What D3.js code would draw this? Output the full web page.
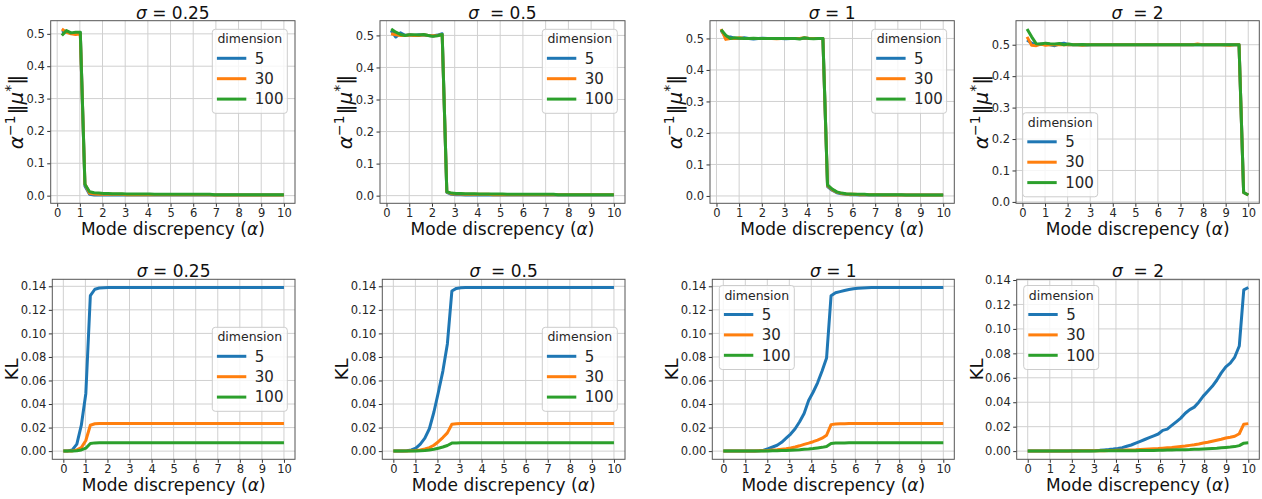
<!DOCTYPE html>
<html><head><meta charset="utf-8">
<script src="https://cdn.jsdelivr.net/npm/d3@7"></script>
<style>body{margin:0;background:#fff}svg{display:block}text{font-family:"DejaVu Sans",sans-serif}</style>
</head><body><svg id="c" width="1262" height="499"></svg>
<script>
// ---------------- data ----------------
const alphaKL = [0,0.204,0.408,0.612,0.816,1.020,1.224,1.429,1.633,1.837,
 2.041,2.245,2.449,2.653,2.857,3.061,3.265,3.469,3.673,3.878,
 4.082,4.286,4.490,4.694,4.898,5.102,5.306,5.510,5.714,5.918,
 6.122,6.327,6.531,6.735,6.939,7.143,7.347,7.551,7.755,7.959,
 8.163,8.367,8.571,8.776,8.980,9.184,9.388,9.592,9.796,10];
const alphaMu = [0.204,0.408,0.612,0.816,1.020,1.224,1.429,1.633,1.837,
 2.041,2.245,2.449,2.653,2.857,3.061,3.265,3.469,3.673,3.878,
 4.082,4.286,4.490,4.694,4.898,5.102,5.306,5.510,5.714,5.918,
 6.122,6.327,6.531,6.735,6.939,7.143,7.347,7.551,7.755,7.959,
 8.163,8.367,8.571,8.776,8.980,9.184,9.388,9.592,9.796,10];
const dims = ["5","30","100"];
const titles = ["0.25","0.5","1","2"];
const titleWide = [false,true,false,true];
const xTicks = [0,1,2,3,4,5,6,7,8,9,10];
const muTicks = [0,0.1,0.2,0.3,0.4,0.5];
const klTicks = [0,0.02,0.04,0.06,0.08,0.10,0.12,0.14];

const mu025_d5 = [0.505,0.508,0.502,0.500,0.503,0.030,0.004,0.002,0.002,0.002,
 0.002,0.002,0.002,0.002,0.002,0.002,0.002,0.002,0.002,0.002,
 0.002,0.002,0.002,0.002,0.002,0.002,0.002,0.002,0.002,0.002,
 0.002,0.002,0.002,0.002,0.002,0.002,0.002,0.002,0.002,0.002,
 0.002,0.002,0.002,0.002,0.002,0.002,0.002,0.002,0.002];
const mu025_d30 = [0.515,0.505,0.500,0.498,0.500,0.036,0.007,0.005,0.004,0.004,
 0.004,0.004,0.004,0.004,0.003,0.003,0.003,0.003,0.003,0.003,
 0.003,0.003,0.003,0.003,0.003,0.003,0.003,0.003,0.003,0.003,
 0.003,0.003,0.003,0.002,0.002,0.002,0.002,0.002,0.002,0.002,
 0.002,0.002,0.002,0.002,0.002,0.002,0.002,0.002,0.002];
const mu025_d100 = [0.495,0.510,0.503,0.505,0.505,0.035,0.012,0.009,0.008,0.007,
 0.007,0.006,0.006,0.006,0.005,0.005,0.005,0.005,0.005,0.005,
 0.004,0.004,0.004,0.004,0.004,0.004,0.004,0.004,0.004,0.004,
 0.004,0.004,0.004,0.003,0.003,0.003,0.003,0.003,0.003,0.003,
 0.003,0.003,0.003,0.003,0.003,0.003,0.003,0.003,0.003];

const mu05_d5 = [0.515,0.495,0.508,0.500,0.502,0.500,0.502,0.501,0.500,0.498,
 0.501,0.505,0.010,0.004,0.003,0.003,0.002,0.002,0.002,0.002,
 0.002,0.002,0.002,0.002,0.002,0.002,0.002,0.002,0.002,0.002,
 0.002,0.002,0.002,0.002,0.002,0.002,0.002,0.002,0.002,0.002,
 0.002,0.002,0.002,0.002,0.002,0.002,0.002,0.002,0.002];
const mu05_d30 = [0.505,0.502,0.500,0.500,0.501,0.500,0.500,0.502,0.500,0.499,
 0.500,0.502,0.012,0.006,0.005,0.005,0.004,0.004,0.004,0.004,
 0.004,0.004,0.003,0.003,0.003,0.003,0.003,0.003,0.003,0.003,
 0.003,0.003,0.003,0.003,0.003,0.003,0.003,0.003,0.003,0.003,
 0.003,0.003,0.003,0.003,0.003,0.003,0.003,0.003,0.003];
const mu05_d100 = [0.520,0.510,0.503,0.500,0.502,0.502,0.501,0.503,0.500,0.497,
 0.499,0.503,0.012,0.008,0.007,0.007,0.006,0.006,0.006,0.005,
 0.005,0.005,0.005,0.005,0.005,0.004,0.004,0.004,0.004,0.004,
 0.004,0.004,0.004,0.004,0.004,0.004,0.003,0.003,0.003,0.003,
 0.003,0.003,0.003,0.003,0.003,0.003,0.003,0.003,0.003];

const mu1_d5 = [0.525,0.505,0.505,0.500,0.500,0.502,0.500,0.498,0.500,0.501,
 0.500,0.500,0.500,0.500,0.499,0.500,0.500,0.500,0.501,0.500,
 0.500,0.500,0.500,0.030,0.018,0.010,0.007,0.005,0.004,0.004,
 0.003,0.003,0.003,0.003,0.003,0.003,0.003,0.003,0.003,0.003,
 0.003,0.003,0.003,0.003,0.003,0.003,0.003,0.003,0.003];
const mu1_d30 = [0.530,0.497,0.500,0.500,0.502,0.500,0.500,0.500,0.500,0.500,
 0.500,0.500,0.499,0.500,0.500,0.500,0.500,0.500,0.502,0.500,
 0.500,0.500,0.500,0.033,0.020,0.012,0.008,0.006,0.005,0.005,
 0.004,0.004,0.004,0.004,0.004,0.003,0.003,0.003,0.003,0.003,
 0.003,0.003,0.003,0.003,0.003,0.003,0.003,0.003,0.003];
const mu1_d100 = [0.528,0.510,0.500,0.502,0.501,0.500,0.500,0.501,0.500,0.500,
 0.500,0.500,0.500,0.500,0.500,0.500,0.500,0.498,0.502,0.500,
 0.499,0.500,0.500,0.035,0.022,0.013,0.009,0.007,0.006,0.005,
 0.005,0.005,0.004,0.004,0.004,0.004,0.004,0.004,0.004,0.004,
 0.003,0.003,0.003,0.003,0.003,0.003,0.003,0.003,0.003];

const mu2_d5 = [0.515,0.505,0.500,0.502,0.503,0.500,0.497,0.502,0.505,0.500,
 0.500,0.501,0.500,0.499,0.500,0.500,0.500,0.500,0.500,0.500,
 0.500,0.500,0.500,0.500,0.500,0.500,0.501,0.500,0.500,0.500,
 0.500,0.500,0.500,0.500,0.500,0.500,0.500,0.501,0.500,0.500,
 0.500,0.500,0.500,0.500,0.500,0.500,0.500,0.030,0.022];
const mu2_d30 = [0.525,0.498,0.497,0.502,0.498,0.500,0.500,0.500,0.500,0.500,
 0.500,0.500,0.498,0.500,0.500,0.500,0.500,0.500,0.500,0.500,
 0.500,0.500,0.500,0.500,0.500,0.500,0.500,0.500,0.500,0.500,
 0.500,0.500,0.500,0.500,0.500,0.500,0.500,0.502,0.500,0.500,
 0.500,0.500,0.500,0.499,0.498,0.500,0.500,0.030,0.022];
const mu2_d100 = [0.550,0.525,0.503,0.502,0.505,0.503,0.502,0.504,0.500,0.502,
 0.500,0.500,0.501,0.500,0.500,0.500,0.500,0.500,0.500,0.500,
 0.500,0.500,0.500,0.500,0.500,0.500,0.500,0.500,0.500,0.500,
 0.500,0.500,0.500,0.500,0.500,0.500,0.500,0.500,0.500,0.500,
 0.500,0.500,0.500,0.500,0.500,0.500,0.500,0.030,0.022];

const kl025_d5 = [0,0.0002,0.001,0.006,0.022,0.049,0.132,0.1375,0.1385,0.1388,
 0.139,0.139,0.139,0.139,0.139,0.139,0.139,0.139,0.139,0.139,
 0.139,0.139,0.139,0.139,0.139,0.139,0.139,0.139,0.139,0.139,
 0.139,0.139,0.139,0.139,0.139,0.139,0.139,0.139,0.139,0.139,
 0.139,0.139,0.139,0.139,0.139,0.139,0.139,0.139,0.139,0.139];
const kl025_d30 = [0,0,0.0002,0.001,0.003,0.009,0.022,0.0232,0.0234,0.0235,
 0.0235,0.0235,0.0235,0.0235,0.0235,0.0235,0.0235,0.0235,0.0235,0.0235,
 0.0235,0.0235,0.0235,0.0235,0.0235,0.0235,0.0235,0.0235,0.0235,0.0235,
 0.0235,0.0235,0.0235,0.0235,0.0235,0.0235,0.0235,0.0235,0.0235,0.0235,
 0.0235,0.0235,0.0235,0.0235,0.0235,0.0235,0.0235,0.0235,0.0235,0.0235];
const kl025_d100 = [0,0,0.0001,0.0004,0.001,0.0025,0.0065,0.0070,0.0071,0.0072,
 0.0072,0.0072,0.0072,0.0072,0.0072,0.0072,0.0072,0.0072,0.0072,0.0072,
 0.0072,0.0072,0.0072,0.0072,0.0072,0.0072,0.0072,0.0072,0.0072,0.0072,
 0.0072,0.0072,0.0072,0.0072,0.0072,0.0072,0.0072,0.0072,0.0072,0.0072,
 0.0072,0.0072,0.0072,0.0072,0.0072,0.0072,0.0072,0.0072,0.0072,0.0072];

const kl05_d5 = [0,0,0.0001,0.0004,0.001,0.0025,0.006,0.011,0.019,0.033,
 0.050,0.068,0.091,0.136,0.1382,0.1387,0.1389,0.139,0.139,0.139,
 0.139,0.139,0.139,0.139,0.139,0.139,0.139,0.139,0.139,0.139,
 0.139,0.139,0.139,0.139,0.139,0.139,0.139,0.139,0.139,0.139,
 0.139,0.139,0.139,0.139,0.139,0.139,0.139,0.139,0.139,0.139];
const kl05_d30 = [0,0,0,0.0001,0.0003,0.0005,0.001,0.0018,0.003,0.005,
 0.008,0.0115,0.0155,0.0228,0.0233,0.0234,0.0235,0.0235,0.0235,0.0235,
 0.0235,0.0235,0.0235,0.0235,0.0235,0.0235,0.0235,0.0235,0.0235,0.0235,
 0.0235,0.0235,0.0235,0.0235,0.0235,0.0235,0.0235,0.0235,0.0235,0.0235,
 0.0235,0.0235,0.0235,0.0235,0.0235,0.0235,0.0235,0.0235,0.0235,0.0235];
const kl05_d100 = [0,0,0,0,0.0001,0.0002,0.0004,0.0006,0.001,0.0016,
 0.0025,0.0035,0.0048,0.0068,0.0070,0.0071,0.0072,0.0072,0.0072,0.0072,
 0.0072,0.0072,0.0072,0.0072,0.0072,0.0072,0.0072,0.0072,0.0072,0.0072,
 0.0072,0.0072,0.0072,0.0072,0.0072,0.0072,0.0072,0.0072,0.0072,0.0072,
 0.0072,0.0072,0.0072,0.0072,0.0072,0.0072,0.0072,0.0072,0.0072,0.0072];

const kl1_d5 = [0,0,0,0,0.0001,0.0001,0.0002,0.0002,0.0004,0.0008,
 0.002,0.0035,0.005,0.0075,0.011,0.0145,0.019,0.025,0.032,0.043,
 0.050,0.058,0.068,0.079,0.132,0.1345,0.1355,0.1365,0.1373,0.138,
 0.1383,0.1386,0.1388,0.139,0.139,0.139,0.139,0.139,0.139,0.139,
 0.139,0.139,0.139,0.139,0.139,0.139,0.139,0.139,0.139,0.139];
const kl1_d30 = [0,0,0,0,0,0.0001,0.0001,0.0002,0.0003,0.0004,
 0.0006,0.0009,0.0012,0.0016,0.002,0.0027,0.0035,0.0045,0.0057,0.0068,
 0.008,0.0093,0.011,0.0135,0.0225,0.023,0.0232,0.0233,0.0234,0.0235,
 0.0235,0.0235,0.0235,0.0235,0.0235,0.0235,0.0235,0.0235,0.0235,0.0235,
 0.0235,0.0235,0.0235,0.0235,0.0235,0.0235,0.0235,0.0235,0.0235,0.0235];
const kl1_d100 = [0,0,0,0,0,0,0,0.0001,0.0001,0.0001,
 0.0002,0.0003,0.0004,0.0005,0.0006,0.0008,0.001,0.0012,0.0015,0.0018,
 0.0022,0.0027,0.0032,0.004,0.0065,0.0068,0.0069,0.007,0.0071,0.0071,
 0.0072,0.0072,0.0072,0.0072,0.0072,0.0072,0.0072,0.0072,0.0072,0.0072,
 0.0072,0.0072,0.0072,0.0072,0.0072,0.0072,0.0072,0.0072,0.0072,0.0072];

const kl2_d5 = [0,0,0,0,0,0,0,0.0001,0.0001,0.0001,
 0.0002,0.0002,0.0003,0.0003,0.0004,0.0005,0.0007,0.001,0.0013,0.0017,
 0.0022,0.0028,0.004,0.005,0.0065,0.008,0.0095,0.011,0.0125,0.014,
 0.017,0.018,0.021,0.024,0.027,0.031,0.034,0.036,0.040,0.045,
 0.049,0.053,0.058,0.064,0.069,0.072,0.077,0.086,0.132,0.1339];
const kl2_d30 = [0,0,0,0,0,0,0,0,0.0001,0.0001,
 0.0001,0.0001,0.0002,0.0002,0.0002,0.0003,0.0003,0.0004,0.0005,0.0006,
 0.0007,0.0008,0.0009,0.001,0.0011,0.0013,0.0015,0.0017,0.0019,0.0021,
 0.0024,0.0027,0.003,0.0034,0.0038,0.0042,0.0047,0.0052,0.0058,0.0066,
 0.0073,0.0081,0.0089,0.0097,0.0107,0.0113,0.0122,0.0142,0.022,0.0225];
const kl2_d100 = [0,0,0,0,0,0,0,0,0,0,
 0,0.0001,0.0001,0.0001,0.0001,0.0001,0.0002,0.0002,0.0002,0.0002,
 0.0003,0.0003,0.0003,0.0004,0.0004,0.0005,0.0005,0.0006,0.0006,0.0007,
 0.0008,0.0009,0.001,0.0011,0.0012,0.0012,0.0013,0.0015,0.0016,0.0018,
 0.002,0.0022,0.0024,0.0027,0.003,0.0033,0.0037,0.0045,0.0065,0.0068];

// ---------------- layout ----------------
const colors = ["#1f77b4","#ff7f0e","#2ca02c"];
const svg = d3.select("#c");

const topFrames = [[50.7,295],[380,625],[710,954.3],[1016,1259.3]];
const botFrames = [[52.3,295],[382.3,625],[712.3,954.3],[1016.7,1259.3]];
const topY = [20.7,203.3], botY = [279.3,459.3];

const panels = [
 {fx:topFrames[0],fy:topY,xs:alphaMu,ser:[mu025_d5,mu025_d30,mu025_d100],ticks:muTicks,fmt:d3.format(".1f"),kind:"mu",leg:"ur",t:0},
 {fx:topFrames[1],fy:topY,xs:alphaMu,ser:[mu05_d5,mu05_d30,mu05_d100],ticks:muTicks,fmt:d3.format(".1f"),kind:"mu",leg:"ur",t:1},
 {fx:topFrames[2],fy:topY,xs:alphaMu,ser:[mu1_d5,mu1_d30,mu1_d100],ticks:muTicks,fmt:d3.format(".1f"),kind:"mu",leg:"ur",t:2},
 {fx:topFrames[3],fy:topY,xs:alphaMu,ser:[mu2_d5,mu2_d30,mu2_d100],ticks:muTicks,fmt:d3.format(".1f"),kind:"mu",leg:"ll",t:3},
 {fx:botFrames[0],fy:botY,xs:alphaKL,ser:[kl025_d5,kl025_d30,kl025_d100],ticks:klTicks,fmt:d3.format(".2f"),kind:"kl",leg:"cr",t:0},
 {fx:botFrames[1],fy:botY,xs:alphaKL,ser:[kl05_d5,kl05_d30,kl05_d100],ticks:klTicks,fmt:d3.format(".2f"),kind:"kl",leg:"cr",t:1},
 {fx:botFrames[2],fy:botY,xs:alphaKL,ser:[kl1_d5,kl1_d30,kl1_d100],ticks:klTicks,fmt:d3.format(".2f"),kind:"kl",leg:"ul",t:2},
 {fx:botFrames[3],fy:botY,xs:alphaKL,ser:[kl2_d5,kl2_d30,kl2_d100],ticks:klTicks,fmt:d3.format(".2f"),kind:"kl",leg:"ul",t:3},
];

function padExt(ext){const r=ext[1]-ext[0];return [ext[0]-0.05*r, ext[1]+0.05*r];}

panels.forEach(p=>{
  const [x0,x1]=p.fx, [y0,y1]=p.fy;
  const x = d3.scaleLinear().domain(padExt(d3.extent(p.xs))).range([x0,x1]);
  const allY = p.ser.flat();
  const y = d3.scaleLinear().domain(padExt(d3.extent(allY))).range([y1,y0]);
  const g = svg.append("g");

  // grid
  g.append("g").selectAll("line").data(xTicks).join("line")
    .attr("x1",d=>x(d)).attr("x2",d=>x(d)).attr("y1",y0).attr("y2",y1)
    .attr("stroke","#d0d0d0").attr("stroke-width",1);
  g.append("g").selectAll("line").data(p.ticks).join("line")
    .attr("y1",d=>y(d)).attr("y2",d=>y(d)).attr("x1",x0).attr("x2",x1)
    .attr("stroke","#d0d0d0").attr("stroke-width",1);

  // axes
  const ax = g.append("g").attr("transform",`translate(0,${y1})`)
    .call(d3.axisBottom(x).tickValues(xTicks).tickSize(3.5).tickPadding(2.5).tickFormat(d3.format("d")));
  const ay = g.append("g").attr("transform",`translate(${x0},0)`)
    .call(d3.axisLeft(y).tickValues(p.ticks).tickSize(3.5).tickPadding(2.5).tickFormat(p.fmt));
  [ax,ay].forEach(a=>{
    a.select(".domain").remove();
    a.selectAll("line").attr("stroke","#333");
    a.selectAll("text").attr("font-size",11.5).attr("fill","#262626").attr("font-family","DejaVu Sans");
  });

  // lines
  const line = d3.line().x((d,i)=>x(p.xs[i])).y(d=>y(d));
  p.ser.forEach((s,k)=>{
    g.append("path").datum(s).attr("d",line).attr("fill","none")
      .attr("stroke",colors[k]).attr("stroke-width",3).attr("stroke-linejoin","round");
  });

  // frame
  g.append("rect").attr("x",x0).attr("y",y0).attr("width",x1-x0).attr("height",y1-y0)
    .attr("fill","none").attr("stroke","#555").attr("stroke-width",1);

  // title
  const tt = g.append("text").attr("x",(x0+x1)/2).attr("y",y0-2.2).attr("text-anchor","middle")
    .attr("font-size",17).attr("fill","#111").attr("xml:space","preserve");
  tt.append("tspan").attr("font-style","italic").text("σ");
  tt.append("tspan").text((titleWide[p.t]?"  = ":" = ")+titles[p.t]);

  // x label
  const xl = g.append("text").attr("x",(x0+x1)/2).attr("y",y1+31.5).attr("text-anchor","middle")
    .attr("font-size",17).attr("fill","#111");
  xl.append("tspan").text("Mode discrepency (");
  xl.append("tspan").attr("font-style","italic").text("α");
  xl.append("tspan").text(")");

  // y label
  const cy=(y0+y1)/2;
  if(p.kind==="kl"){
    g.append("text").attr("transform",`translate(${x0-34},${cy}) rotate(-90)`).attr("text-anchor","middle")
      .attr("font-size",18).attr("fill","#111").text("KL");
  } else {
    const yl = g.append("text").attr("transform",`translate(${x0-28},${cy}) rotate(-90)`).attr("text-anchor","middle")
      .attr("font-size",20).attr("fill","#111");
    yl.append("tspan").attr("font-style","italic").text("α");
    yl.append("tspan").attr("font-size",14).attr("dy",-8).text("−1");
    yl.append("tspan").attr("dy",8).attr("dx",1).text("‖");
    yl.append("tspan").attr("font-style","italic").text("μ");
    yl.append("tspan").attr("font-size",14).attr("dy",-8).text("*");
    yl.append("tspan").attr("dy",8).text("‖");
  }

  // legend
  const lw=75, lh=84;
  let lx, ly;
  if(p.leg==="ur"){lx=x1-7.7-lw; ly=y0+8.6;}
  else if(p.leg==="ll"){lx=x0+6.7; ly=y1-6.5-lh;}
  else if(p.leg==="cr"){lx=x1-7.7-lw; ly=(y0+y1)/2-lh/2;}
  else {lx=x0+7; ly=y0+6.2;}
  const lg = g.append("g").attr("transform",`translate(${lx},${ly})`);
  lg.append("rect").attr("width",lw).attr("height",lh).attr("rx",3)
    .attr("fill","#fff").attr("fill-opacity",0.8).attr("stroke","#cccccc").attr("stroke-width",1);
  lg.append("text").attr("x",lw/2).attr("y",14.2).attr("text-anchor","middle")
    .attr("font-size",12.5).attr("fill","#262626").text("dimension");
  dims.forEach((d,k)=>{
    const yy = 29 + k*20.4;
    lg.append("line").attr("x1",4.6).attr("x2",34).attr("y1",yy).attr("y2",yy)
      .attr("stroke",colors[k]).attr("stroke-width",3);
    lg.append("text").attr("x",42.5).attr("y",yy+5.3).attr("font-size",15).attr("fill","#262626").text(d);
  });
});
</script></body></html>
